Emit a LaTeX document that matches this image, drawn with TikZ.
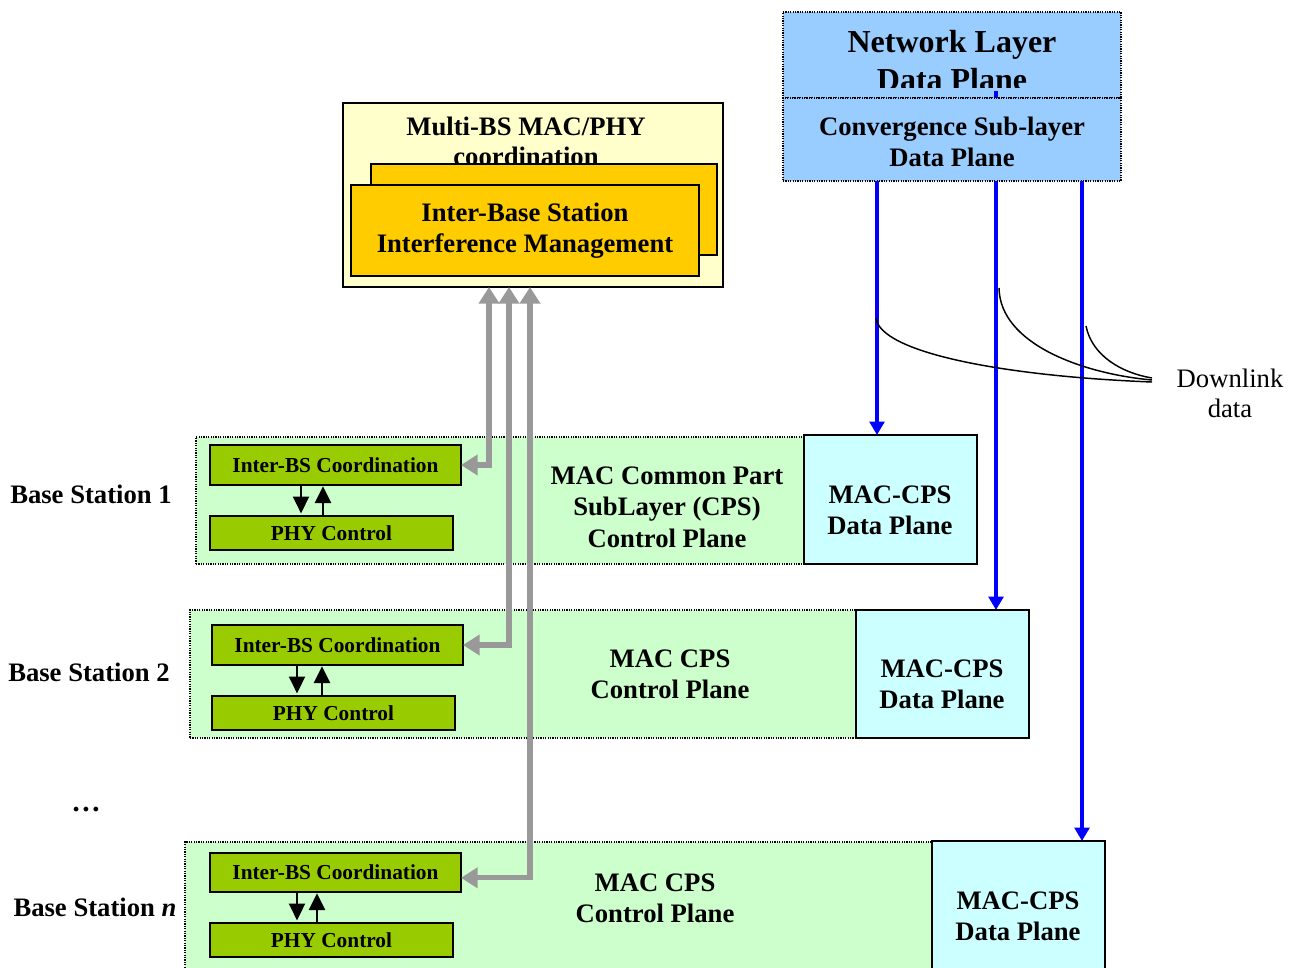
\documentclass[tikz,border=0pt]{standalone}
\usepackage{fontspec}
\setmainfont{Liberation Serif}
\usetikzlibrary{arrows.meta,fit,calc}

\definecolor{mbsyellow}{HTML}{FFFFCC}
\definecolor{iborange}{HTML}{FFCC00}
\definecolor{netblue}{HTML}{99CCFF}
\definecolor{bandgreen}{HTML}{CCFFCC}
\definecolor{cpscyan}{HTML}{CCFFFF}
\definecolor{ctlgreen}{HTML}{99CC00}
\definecolor{linkgray}{HTML}{999999}
\definecolor{dlblue}{HTML}{0000FF}

\tikzset{
  region/.style={inner sep=0pt, outer sep=0pt},
  solidbox/.style={region, draw=black, line width=1.2pt},
  dotbox/.style={region, draw=black, line width=0.9pt, dash pattern=on 0.9pt off 0.9pt},
  bigtext/.style={font=\bfseries\fontsize{20}{23.5}\selectfont, align=center, inner sep=0pt},
  smalltext/.style={font=\bfseries\fontsize{16}{19}\selectfont},
  linkarrow/.style={draw=linkgray, line width=3.8pt,
    {Triangle[width=15pt,length=12.5pt]}-{Triangle[width=15pt,length=12.5pt]}},
  dlarrow/.style={draw=dlblue, line width=3.2pt, -{Triangle[width=11pt,length=10pt]}},
  ctlarrow/.style={draw=black, line width=1.5pt, -{Triangle[width=12pt,length=12.5pt]}},
  dlcurve/.style={draw=black, line width=1.1pt},
}

\begin{document}
\begin{tikzpicture}[x=0.75pt, y=-0.75pt]
\useasboundingbox (0,0) rectangle (1291,967);
\clip (0,0) rectangle (1291,967);

% ---------- multi-BS coordination block ----------
\node[solidbox, line width=1.5pt, fill=mbsyellow, fit={(343,103) (723,287)}] (mbs) {};
\node[bigtext, font=\bfseries\fontsize{20}{22.5}\selectfont] (mbstitle) at (526,141) {Multi-BS MAC/PHY\\coordination};
\node[solidbox, fill=iborange, fit={(371,164) (717,255)}] (ibimback) {};
\node[solidbox, fill=iborange, fit={(351,185) (699,276)}] (ibim) {};
\node[bigtext] (ibimtext) at (525,231) {Inter-Base Station\\Interference Management};

% ---------- network layer / convergence sub-layer ----------
\node[dotbox, fill=netblue, fit={(783,12) (1121,98)}] (nl) {};
\node[font=\bfseries\fontsize{24}{27}\selectfont, inner sep=0pt, anchor=base] (nltext) at (952,52) {Network Layer};
\begin{scope}
  \clip (783,12) rectangle (1121,87);
  \node[font=\bfseries\fontsize{24}{27}\selectfont, inner sep=0pt, anchor=base] (nltext2) at (952,90) {Data Plane};
\end{scope}

% downlink paths into the base stations
\coordinate (dx1) at (877,181);
\coordinate (dx2) at (996,91);
\coordinate (dx3) at (1082,181);

% ---------- base station 1 ----------
\node[dotbox, fill=bandgreen, fit={(196,437) (804,564)}] (bs1) {};
\node[solidbox, fill=cpscyan, fit={(804,435) (977,564)}] (cps1) {};
\node[bigtext] (cps1text) at (890,510) {MAC-CPS\\Data Plane};
\node[bigtext] (cpl1text) at (667,507) {MAC Common Part\\SubLayer (CPS)\\Control Plane};
\node[solidbox, fill=ctlgreen, fit={(210,445) (461,485)}] (ibs1) {};
\node[smalltext, inner sep=0pt] at (ibs1.center) {Inter-BS Coordination};
\node[solidbox, fill=ctlgreen, fit={(210,516) (453,550)}] (phy1) {};
\node[smalltext, inner sep=0pt] at (phy1.center) {PHY Control};
\node[bigtext] (bs1label) at (91,494) {Base Station 1};
\coordinate (c1a) at (301,0);
\coordinate (c1b) at (323,0);
\draw[ctlarrow, shorten >=2pt] (ibs1.south -| c1a) -- (phy1.north -| c1a);
\draw[ctlarrow, shorten >=1pt] (phy1.north -| c1b) -- (ibs1.south -| c1b);

% ---------- base station 2 ----------
\node[dotbox, fill=bandgreen, fit={(190,610) (856,738)}] (bs2) {};
\node[solidbox, fill=cpscyan, fit={(856,610) (1029,738)}] (cps2) {};
\node[bigtext] (cps2text) at (942,684) {MAC-CPS\\Data Plane};
\node[bigtext] (cpl2text) at (670,674) {MAC CPS\\Control Plane};
\node[solidbox, fill=ctlgreen, fit={(212,625) (463,665)}] (ibs2) {};
\node[smalltext, inner sep=0pt] at (ibs2.center) {Inter-BS Coordination};
\node[solidbox, fill=ctlgreen, fit={(212,696) (455,730)}] (phy2) {};
\node[smalltext, inner sep=0pt] at (phy2.center) {PHY Control};
\node[bigtext] (bs2label) at (89,672) {Base Station 2};
\coordinate (c2a) at (297,0);
\coordinate (c2b) at (322,0);
\draw[ctlarrow, shorten >=2pt] (ibs2.south -| c2a) -- (phy2.north -| c2a);
\draw[ctlarrow, shorten >=1pt] (phy2.north -| c2b) -- (ibs2.south -| c2b);

\node[bigtext, anchor=base, font=\bfseries\fontsize{22}{24}\selectfont] (dots) at (86,811) {\ldots};

% ---------- base station n ----------
\node[dotbox, fill=bandgreen, fit={(185,842) (932,985)}] (bsn) {};
\node[solidbox, fill=cpscyan, fit={(932,841) (1105,985)}] (cpsn) {};
\node[bigtext] (cpsntext) at (1018,916) {MAC-CPS\\Data Plane};
\node[bigtext] (cplntext) at (655,898) {MAC CPS\\Control Plane};
\node[solidbox, fill=ctlgreen, fit={(210,853) (461,892)}] (ibsn) {};
\node[smalltext, inner sep=0pt] at (ibsn.center) {Inter-BS Coordination};
\node[solidbox, fill=ctlgreen, fit={(210,923) (453,957)}] (phyn) {};
\node[smalltext, inner sep=0pt] at (phyn.center) {PHY Control};
\node[bigtext] (bsnlabel) at (95,907) {Base Station \textit{n}};
\coordinate (cna) at (297,0);
\coordinate (cnb) at (317,0);
\draw[ctlarrow, shorten >=2pt] (ibsn.south -| cna) -- (phyn.north -| cna);
\draw[ctlarrow, shorten >=1pt] (phyn.north -| cnb) -- (ibsn.south -| cnb);

% ---------- downlink data arrows ----------
\draw[dlarrow] (dx2) -- (dx2 |- cps2.north);
\node[dotbox, fill=netblue, fit={(783,98) (1121,181)}] (conv) {};
\node[bigtext, font=\bfseries\fontsize{20}{23.3}\selectfont] (convtext) at (952,142) {Convergence Sub-layer\\Data Plane};
\draw[dlarrow] (conv.south -| dx1) -- (dx1 |- cps1.north);
\draw[dlarrow] (conv.south -| dx3) -- (dx3 |- cpsn.north);

% ---------- inter-BS coordination links ----------
\coordinate (g1) at (489,0);
\coordinate (g2) at (509,0);
\coordinate (g3) at (530,0);
\draw[linkarrow] (mbs.south -| g1) |- (ibs1.east);
\draw[linkarrow] (mbs.south -| g2) |- (ibs2.east);
\draw[linkarrow] (mbs.south -| g3) |- ([yshift=-4pt]ibsn.east);

% ---------- downlink data annotation ----------
\node[font=\fontsize{20}{22.5}\selectfont, align=center, inner sep=0pt] (dltext) at (1230,393) {Downlink\\data};
\coordinate (dlend) at (1152,380);
\draw[dlcurve] (876,318) .. controls (880,352) and (1000,376) .. ([yshift=-1.5pt]dlend);
\draw[dlcurve] (999,288) .. controls (1000,345) and (1085,374) .. (dlend);
\draw[dlcurve] (1086,326) .. controls (1092,356) and (1122,373) .. ([yshift=1.5pt]dlend);
\end{tikzpicture}
\end{document}
